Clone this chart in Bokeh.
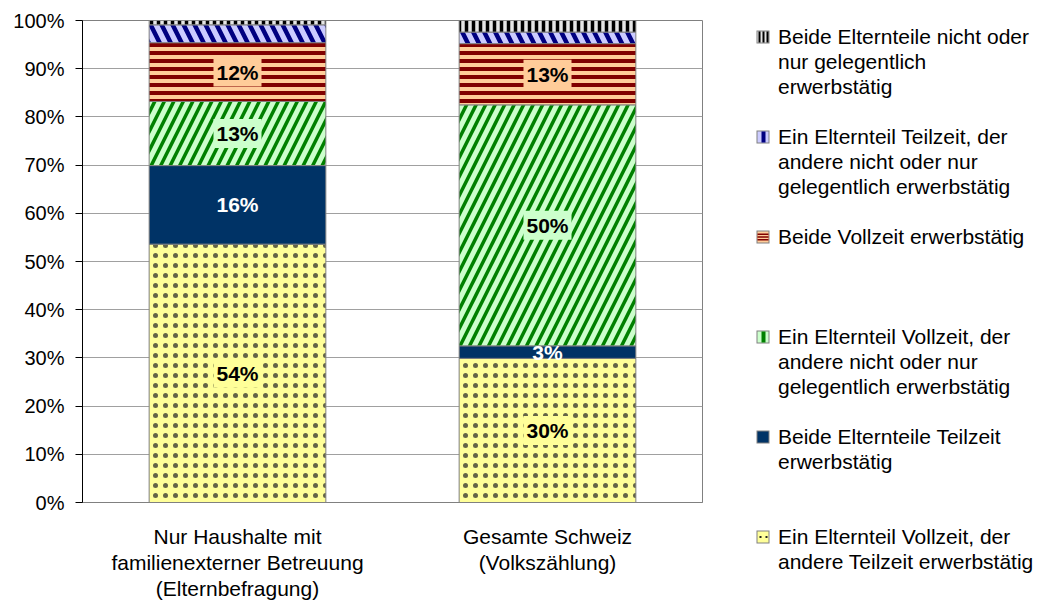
from bokeh.plotting import figure
from bokeh.models import FactorRange, Range1d, FixedTicker, ColumnDataSource, Legend, LegendItem
from bokeh.core.properties import value
from bokeh.embed import file_html
from bokeh.resources import INLINE

FONT = "Liberation Sans"

categories = ["Nur Haushalte mit\nfamilienexterner Betreuung\n(Elternbefragung)",
              "Gesamte Schweiz\n(Volkszählung)"]

# stacking order: bottom -> top
series_names = [
    "Ein Elternteil Vollzeit, der\nandere Teilzeit erwerbstätig",
    "Beide Elternteile Teilzeit\nerwerbstätig",
    "Ein Elternteil Vollzeit, der\nandere nicht oder nur\ngelegentlich erwerbstätig",
    "Beide Vollzeit erwerbstätig",
    "Ein Elternteil Teilzeit, der\nandere nicht oder nur\ngelegentlich erwerbstätig",
    "Beide Elternteile nicht oder\nnur gelegentlich\nerwerbstätig",
]
vz_tz = [53.6, 29.9]
tz_tz = [16.3, 2.6]
vz_nicht = [13.3, 50.0]
vz_vz = [12.2, 12.7]
tz_nicht = [3.7, 2.4]
nicht_nicht = [0.9, 2.4]
series_values = [vz_tz, tz_tz, vz_nicht, vz_vz, tz_nicht, nicht_nicht]
labelled = [True, True, True, True, False, False]

y_ticks = [0, 10, 20, 30, 40, 50, 60, 70, 80, 90, 100]
y_tick_labels = ["0%", "10%", "20%", "30%", "40%", "50%", "60%", "70%", "80%", "90%", "100%"]

# styles
fills = ["#FFFF99", "#003366", "#CCFFCC", "#FFCC99", "#CCCCFF", "#E6E6E6"]
hatches = ["dot", " ", "right_diagonal_line", "horizontal_line", "left_diagonal_line", "vertical_line"]
hatch_colors = ["#222222", "#003366", "#008000", "#800000", "#000080", "#000000"]
hatch_alphas = [0.7, 1.0, 1.0, 1.0, 1.0, 1.0]
hatch_scales = [10, 8, 19, 8, 22, 7]
hatch_weights = [1, 1, 3.5, 4, 4.5, 3.5]
label_colors = ["#000000", "#FFFFFF", "#000000", "#000000", "#000000", "#000000"]
label_bgs = ["#FFFF99", None, "#CCFFCC", "#FFCC99", None, None]

keys = ["s%d" % i for i in range(len(series_values))]
data = {"cat": categories}
for k, v in zip(keys, series_values):
    data[k] = v
source = ColumnDataSource(data)

FRAME_L, FRAME_T, FRAME_W, FRAME_H = 82, 20, 620, 482
p = figure(frame_width=FRAME_W, frame_height=FRAME_H,
           x_range=FactorRange(*categories), y_range=Range1d(0, 100),
           toolbar_location=None, output_backend="svg",
           min_border_left=FRAME_L, min_border_top=FRAME_T,
           min_border_right=200, min_border_bottom=100)
p.background_fill_color = "white"
p.border_fill_color = "white"
p.outline_line_color = "#808080"

bars = p.vbar_stack(keys, x="cat", width=0.57, source=source,
                    fill_color=fills, line_color="#808080", line_width=1,
                    hatch_pattern=hatches, hatch_color=hatch_colors, hatch_alpha=hatch_alphas,
                    hatch_scale=hatch_scales, hatch_weight=hatch_weights)

# data labels
cum = [0.0] * len(categories)
for i, vals in enumerate(series_values):
    mids = [c + v / 2 for c, v in zip(cum, vals)]
    cum = [c + v for c, v in zip(cum, vals)]
    if not labelled[i]:
        continue
    texts = ["%d%%" % int(v + 0.5) for v in vals]
    kw = {}
    if label_bgs[i]:
        kw = dict(background_fill_color=label_bgs[i], padding=3)
    p.text(x=categories, y=mids, text=texts, text_align="center", text_baseline="middle",
           text_font=value(FONT), text_font_size="21px", text_font_style="bold",
           text_color=label_colors[i], **kw)

p.yaxis.ticker = FixedTicker(ticks=y_ticks)
p.yaxis.major_label_overrides = {t: l for t, l in zip(y_ticks, y_tick_labels)}
p.yaxis.major_label_text_font = FONT
p.yaxis.major_label_text_font_size = "20px"
p.yaxis.major_label_text_color = "black"
p.yaxis.major_tick_out = 7
p.yaxis.major_tick_in = 0
p.yaxis.minor_tick_line_color = None
p.yaxis.axis_line_color = "black"
p.yaxis.major_tick_line_color = "black"
p.yaxis.major_label_standoff = 11

p.xaxis.major_label_text_font = FONT
p.xaxis.major_label_text_font_size = "21px"
p.xaxis.major_label_text_color = "black"
p.xaxis.major_label_text_line_height = 1.15
p.xaxis.major_tick_line_color = None
p.xaxis.axis_line_color = "#808080"
p.xaxis.major_label_standoff = 16

p.xgrid.grid_line_color = None
p.ygrid.grid_line_color = "#A0A0A0"
p.ygrid.ticker = FixedTicker(ticks=y_ticks)

# ---- legend: one row per text line, 4 rows per entry; small swatches drawn as dashed strokes
GW = 76          # glyph area width -> text starts 76px right of the frame
SW0 = 55         # swatch offset inside the glyph area
SW = 11          # swatch size

# a one-point line draws nothing in the plot area; it only carries legend styling
stub = ColumnDataSource(data=dict(x=[categories[0]], y=[-10]))


def stroke(color, width, dash, alpha=1.0):
    return p.line(x="x", y="y", source=stub, line_color=color, line_width=width,
                  line_dash=dash, line_alpha=alpha, line_cap="butt")


def swatch(i):
    rs = [stroke("#808080", SW + 2, "0 %d %d 200" % (SW0 - 1, SW + 2)),
          stroke(fills[i], SW, "0 %d %d 200" % (SW0, SW))]
    c = hatch_colors[i]
    pat = hatches[i]
    if pat == "dot":
        rs.append(stroke(c, 2, "0 %d 2 4 2 200" % (SW0 + 2)))
    elif pat == "horizontal_line":
        rs.append(stroke(c, 7, "0 %d %d 200" % (SW0, SW)))
        rs.append(stroke(fills[i], 4, "0 %d %d 200" % (SW0, SW)))
        rs.append(stroke(c, 1.5, "0 %d %d 200" % (SW0, SW)))
    elif pat == "vertical_line":
        rs.append(stroke(c, SW, "0 %d 2 2 2 2 2 200" % (SW0 + 1)))
    elif pat in ("right_diagonal_line", "left_diagonal_line"):
        rs.append(stroke(c, SW, "0 %d 4 200" % (SW0 + 4)))
    return rs


blank = stroke("white", 1, "solid", alpha=0)
items = []
n = len(series_names)
order = list(range(n))[::-1]
for pos, i in enumerate(order):
    lines = series_names[i].split("\n")
    sw = swatch(i)
    for j, line in enumerate(lines):
        items.append(LegendItem(label=line, renderers=sw if j == 0 else [blank]))
    if pos < n - 1:
        for _ in range(4 - len(lines)):
            items.append(LegendItem(label=" ", renderers=[blank]))

legend = Legend(items=items, location="top_left", orientation="vertical",
                margin=0, padding=0, spacing=0,
                title=" ", title_text_font_size="1px", title_standoff=3,
                glyph_width=GW, glyph_height=25, label_height=25,
                label_standoff=0,
                label_text_font=FONT, label_text_font_size="21px", label_text_color="black",
                label_text_baseline="middle",
                border_line_color=None, background_fill_alpha=0)
p.add_layout(legend, "right")

open("out.html", "w").write(file_html(p, INLINE))
